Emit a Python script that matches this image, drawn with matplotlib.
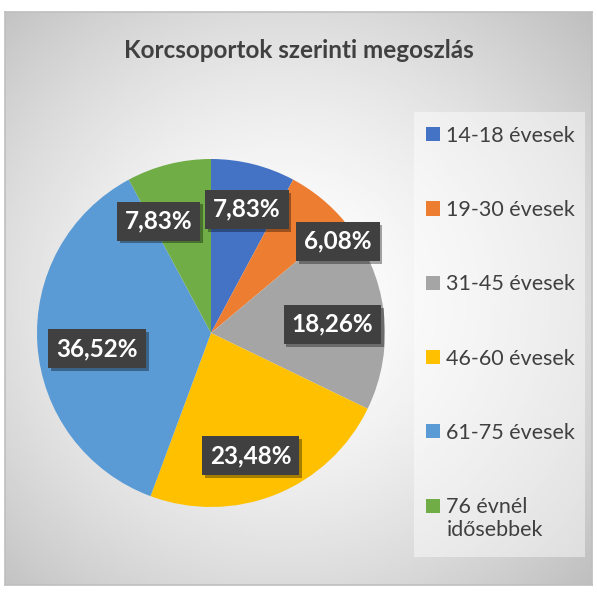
import matplotlib.pyplot as plt
import matplotlib.patheffects as pe
from matplotlib.patches import Rectangle
from matplotlib.legend_handler import HandlerPatch
import numpy as np

plt.rcParams['font.family'] = ['Lato', 'DejaVu Sans']

# adatok: korcsoportok es szazalekos megoszlas
csoportok = ['14-18 évesek', '19-30 évesek', '31-45 évesek',
             '46-60 évesek', '61-75 évesek', '76 évnél\nidősebbek']
szazalek = [7.83, 6.08, 18.26, 23.48, 36.52, 7.83]
szinek = ['#4472C4', '#ED7D31', '#A5A5A5', '#FFC000', '#5B9BD5', '#70AD47']
cim = 'Korcsoportok szerinti megoszlás'

# cimkek helye (sugar es szog eltolas) - az Excel "best fit" kb.
cimke_sugar = [0.74, 0.90, 0.70, 0.74, 0.66, 0.71]
cimke_szog = [-2, -15, -3, -4, 4, 11]

W, H = 597, 593
fig = plt.figure(figsize=(W / 100, H / 100), dpi=100)
fig.patch.set_facecolor('white')

# hatter: radialis szurke atmenet
bg = fig.add_axes([5 / W, 8 / H, 587 / W, 573 / H])
yy, xx = np.mgrid[-1:1:300j, -1:1:300j]
rr = np.sqrt((xx + 0.05) ** 2 + (yy - 0.0) ** 2)
val = 1.0 - 0.14 * np.clip(rr, 0, 1.45) ** 1.6
bg.imshow(val, cmap='gray', vmin=0, vmax=1, extent=[0, 1, 0, 1],
          aspect='auto', interpolation='bilinear')
bg.set_xticks([])
bg.set_yticks([])
for s in bg.spines.values():
    s.set_color('#bfbfbf')
    s.set_linewidth(1.2)

fig.text(0.5, 1 - 50 / H, cim, ha='center', va='center',
         fontsize=17.5, fontweight='bold', color='#404040')

ax = fig.add_axes([(211 - 174) / W, (H - 333 - 174) / H, 348 / W, 348 / H])
ax.set_facecolor('none')
wedges, _ = ax.pie(szazalek, colors=szinek, startangle=90, counterclock=False,
                   radius=1.0, wedgeprops=dict(linewidth=0))
ax.set_xlim(-1, 1)
ax.set_ylim(-1, 1)
ax.set_aspect('equal')
ax.axis('off')

for i, w in enumerate(wedges):
    szog = np.deg2rad((w.theta1 + w.theta2) / 2 + cimke_szog[i])
    x = cimke_sugar[i] * np.cos(szog)
    y = cimke_sugar[i] * np.sin(szog)
    szoveg = f'{szazalek[i]:.2f}'.replace('.', ',') + '%'
    t = ax.text(x, y, szoveg, ha='center', va='center', fontsize=17.5,
                fontweight='bold', color='white',
                bbox=dict(boxstyle='square,pad=0.33', facecolor='#404040',
                          edgecolor='none'))
    t.get_bbox_patch().set_path_effects(
        [pe.SimplePatchShadow(offset=(2, -2), shadow_rgbFace='black', alpha=0.35),
         pe.Normal()])

# jelmagyarazat hattere
fig.patches.append(Rectangle((414 / W, 1 - 557 / H), 171 / W, 445 / H,
                             transform=fig.transFigure, facecolor='white',
                             alpha=0.45, edgecolor='none', zorder=2))


# ketsoros felirat: a negyzet az elso sorhoz igazodjon
def felso_sor(legend, orig_handle, xdescent, ydescent, width, height, fontsize):
    return Rectangle((-xdescent, -ydescent + 0.6 * fontsize), width, height)


leg = fig.legend(wedges, csoportok, loc='upper left',
                 bbox_to_anchor=(414 / W, 1 - 114 / H), fontsize=15.5,
                 frameon=False, handlelength=0.65,
                 handleheight=0.65, handletextpad=0.3, labelspacing=2.52,
                 borderpad=0.55, borderaxespad=0,
                 handler_map={wedges[-1]: HandlerPatch(patch_func=felso_sor)})
for txt in leg.get_texts():
    txt.set_color('#404040')

fig.savefig('out.png', dpi=100)
